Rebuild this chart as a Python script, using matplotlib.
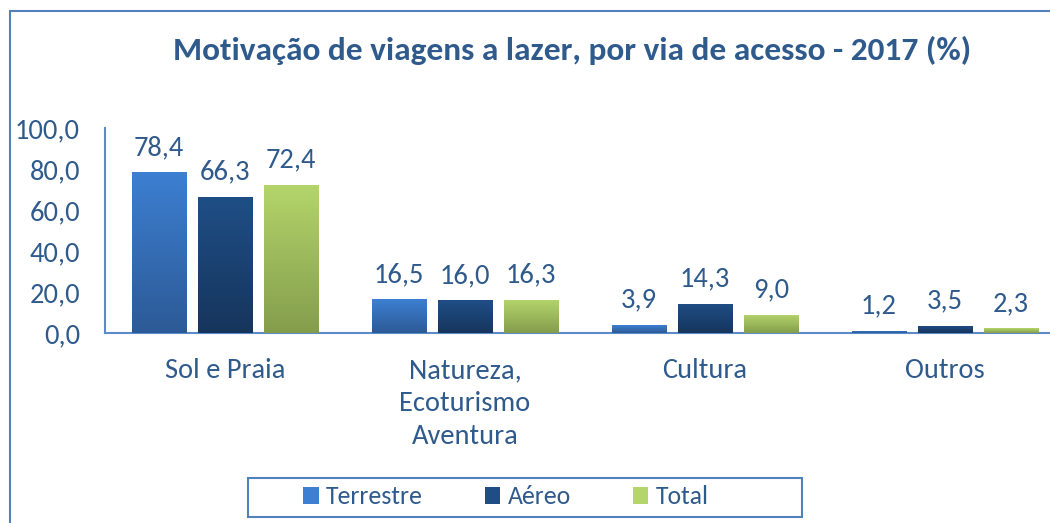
import numpy as np
import matplotlib
matplotlib.use('Agg')
import matplotlib.pyplot as plt
from matplotlib import font_manager
from matplotlib.colors import LinearSegmentedColormap
from matplotlib.patches import Rectangle

categories = ['Sol e Praia', 'Natureza,\nEcoturismo\nAventura', 'Cultura', 'Outros']
series_names = ['Terrestre', 'Aéreo', 'Total']
terrestre = [78.4, 16.5, 3.9, 1.2]
aereo = [66.3, 16.0, 14.3, 3.5]
total = [72.4, 16.3, 9.0, 2.3]
yticks = [0, 20, 40, 60, 80, 100]

# top / bottom colours of each gradient
grad_colors = [('#3d7fd2', '#2c5a96'), ('#1f4e86', '#16355c'), ('#b4d56b', '#849d4c')]
txt_color = '#2f5a8c'

available = {f.name for f in font_manager.fontManager.ttflist}
font = 'DejaVu Sans'
for cand in ['Carlito', 'Liberation Sans Narrow', 'Open Sans']:
    if cand in available:
        font = cand
        break
plt.rcParams['font.family'] = [font, 'DejaVu Sans']

fig = plt.figure(figsize=(10.5, 5.23), dpi=100)
# chart border, running off the right and bottom edges
fig.patches.append(Rectangle((10 / 1050, -0.1), 1.2, 1 - 11 / 523 + 0.1,
                             transform=fig.transFigure, fill=False,
                             edgecolor='#4f81bd', linewidth=1.5))
# legend box
fig.patches.append(Rectangle((248 / 1050, 1 - 517 / 523), 554 / 1050, 39 / 523,
                             transform=fig.transFigure, fill=False,
                             edgecolor='#4f81bd', linewidth=1.5))

ax = fig.add_axes([105 / 1050, 1 - 333 / 523, 960 / 1050, 205 / 523])

x = np.arange(len(categories))
w = 55 / 240
step = 66 / 240
data = [terrestre, aereo, total]
for k, (vals, (ctop, cbot)) in enumerate(zip(data, grad_colors)):
    bars = ax.bar(x + (k - 1) * step, vals, w, color=ctop, label=series_names[k], zorder=2)
    cmap = LinearSegmentedColormap.from_list('g%d' % k, [cbot, ctop])
    grad = np.linspace(0, 1, 256).reshape(-1, 1)
    for b, v in zip(bars, vals):
        x0 = b.get_x()
        im = ax.imshow(grad, cmap=cmap, origin='lower', aspect='auto',
                       extent=[x0, x0 + b.get_width(), 0, v], zorder=3)
        im.set_clip_path(b)
        ax.text(x0 + b.get_width() / 2, v + 6, ('%.1f' % v).replace('.', ','),
                ha='center', va='bottom', fontsize=20.5, color=txt_color)

ax.set_xlim(-0.5, 3.5)
ax.set_ylim(0, 100)
ax.set_yticks(yticks)
ax.set_yticklabels([('%.1f' % t).replace('.', ',') for t in yticks])
ax.set_xticks(x)
ax.set_xticklabels(categories, linespacing=1.4)
ax.tick_params(axis='y', length=0, labelsize=20.5, labelcolor=txt_color, pad=18)
ax.tick_params(axis='x', length=0, labelsize=20.5, labelcolor=txt_color, pad=18)
for s in ['top', 'right']:
    ax.spines[s].set_visible(False)
for s in ['left', 'bottom']:
    ax.spines[s].set_color('#5b8bc9')
    ax.spines[s].set_linewidth(1.5)

fig.text(572 / 1050, 1 - 50 / 523, 'Motivação de viagens a lazer, por via de acesso - 2017 (%)',
         ha='center', va='center', fontsize=24, fontweight='bold', color='#2f5a8c')

leg = ax.legend(loc='center', bbox_to_anchor=(506 / 1050, 1 - 497 / 523),
                bbox_transform=fig.transFigure, ncol=3, fontsize=18.5,
                handlelength=0.6, handleheight=0.6, handletextpad=0.3,
                columnspacing=2.4, frameon=False, labelcolor=txt_color)

fig.savefig('out.png', dpi=100)
